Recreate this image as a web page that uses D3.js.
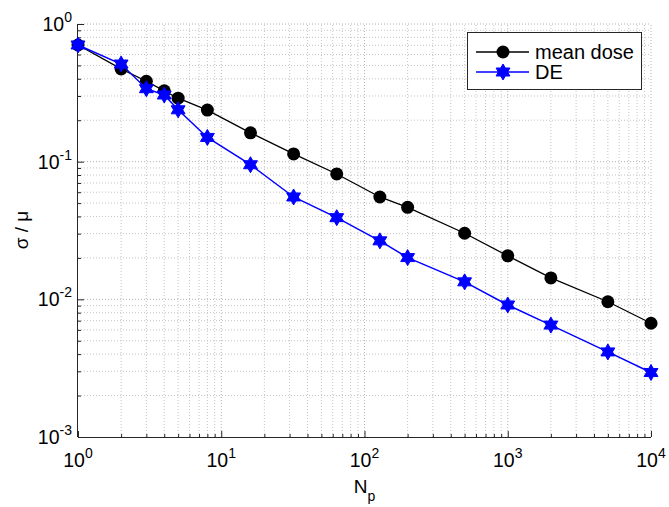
<!DOCTYPE html>
<html>
<head>
<meta charset="utf-8">
<script src="https://cdn.jsdelivr.net/npm/d3@7"></script>
<style>
  html, body { margin: 0; padding: 0; background: #fff; }
  svg { display: block; }
  text { font-family: "Liberation Sans", Arial, Helvetica, sans-serif; fill: #000; }
</style>
</head>
<body>
<svg id="chart" width="669" height="507"></svg>
<script>
// Number of particles per history
const particles = [1, 2, 3, 4, 5, 8, 16, 32, 64, 128, 200, 500, 1000, 2000, 5000, 10000];
// Relative standard deviation (sigma / mu) for each estimator
const meanDose = [0.704, 0.472, 0.384, 0.327, 0.289, 0.237, 0.162, 0.1138, 0.0814, 0.0554, 0.0466, 0.0302, 0.0207, 0.0143, 0.0096, 0.0067];
const deValues = [0.704, 0.512, 0.339, 0.305, 0.238, 0.150, 0.095, 0.0554, 0.0392, 0.0266, 0.0201, 0.0134, 0.0091, 0.0065, 0.00415, 0.00294];
const seriesNames = ["mean dose", "DE"];
const xTickExps = [0, 1, 2, 3, 4];
const yTickExps = [-3, -2, -1, 0];

const svg = d3.select("#chart");
const x = d3.scaleLog().domain([1, 1e4]).range([78, 651]);
const y = d3.scaleLog().domain([1e-3, 1]).range([437, 24]);

// tick positions: every integer multiple inside each decade
function logTicks(lo, hi) {
  const out = [];
  for (let e = lo; e < hi; e++) {
    for (let m = 1; m < 10; m++) out.push(m * Math.pow(10, e));
  }
  out.push(Math.pow(10, hi));
  return out;
}
const xAll = logTicks(0, 4);
const yAll = logTicks(-3, 0);
const isMajor = v => Math.abs(Math.log10(v) - Math.round(Math.log10(v))) < 1e-9;

// grid
const grid = svg.append("g");
grid.selectAll("line.gx").data(xAll.filter(v => v > 1)).join("line")
  .attr("x1", d => x(d)).attr("x2", d => x(d))
  .attr("y1", y(1e-3)).attr("y2", y(1))
  .attr("stroke", d => isMajor(d) ? "#b4b4b4" : "#c4c4c4")
  .attr("stroke-width", 1)
  .attr("stroke-dasharray", "1,2");
grid.selectAll("line.gy").data(yAll.filter(v => v > 1e-3)).join("line")
  .attr("y1", d => y(d)).attr("y2", d => y(d))
  .attr("x1", x(1)).attr("x2", x(1e4))
  .attr("stroke", d => isMajor(d) ? "#b4b4b4" : "#c4c4c4")
  .attr("stroke-width", 1)
  .attr("stroke-dasharray", "1,2");

// axes with inward ticks
const axisColor = "#262626";
const xAxis = d3.axisBottom(x).tickValues(xAll).tickFormat("")
  .tickSizeInner(0).tickSizeOuter(0);
const gx = svg.append("g").attr("transform", `translate(0,${y(1e-3)})`).call(xAxis);
gx.select(".domain").attr("stroke", axisColor).attr("d", `M${x(1)},0.5H${x(1e4)}`);
gx.selectAll(".tick line")
  .attr("y1", 0)
  .attr("y2", d => isMajor(d) ? -6 : -3)
  .attr("stroke", axisColor);

const yAxis = d3.axisLeft(y).tickValues(yAll).tickFormat("")
  .tickSizeInner(0).tickSizeOuter(0);
const gy = svg.append("g").attr("transform", `translate(${x(1)},0)`).call(yAxis);
gy.select(".domain").attr("stroke", axisColor).attr("d", `M-0.5,${y(1)}V${y(1e-3)}`);
gy.selectAll(".tick line")
  .attr("x1", 0)
  .attr("x2", d => isMajor(d) ? 6 : 3)
  .attr("stroke", axisColor);

// tick labels as 10^n
function powerLabel(sel, e) {
  sel.append("tspan").text("10");
  sel.append("tspan").text(String(e))
    .attr("dy", -9).attr("font-size", 14);
}
xTickExps.forEach(e => {
  const t = svg.append("text")
    .attr("x", x(Math.pow(10, e)))
    .attr("y", 467)
    .attr("text-anchor", "middle")
    .attr("font-size", 19.5);
  powerLabel(t, e);
});
yTickExps.forEach(e => {
  const t = svg.append("text")
    .attr("x", 72)
    .attr("y", y(Math.pow(10, e)) + 7)
    .attr("text-anchor", "end")
    .attr("font-size", 19.5);
  powerLabel(t, e);
});

// axis titles
const xt = svg.append("text")
  .attr("x", x(100)).attr("y", 493)
  .attr("text-anchor", "middle").attr("font-size", 19);
xt.append("tspan").text("N");
xt.append("tspan").text("p").attr("font-size", 14).attr("dy", 8);

svg.append("text")
  .attr("transform", "translate(28,230) rotate(-90)")
  .attr("text-anchor", "middle").attr("font-size", 19)
  .text("σ / μ");

// six-pointed star marker
function hexagram(r) {
  const pts = d3.range(12).map(i => {
    const a = -Math.PI / 2 + i * Math.PI / 6;
    const rr = i % 2 === 0 ? r : r / Math.sqrt(3);
    return [rr * Math.cos(a), rr * Math.sin(a)];
  });
  return d3.line()(pts) + "Z";
}

const line = d3.line().x((d, i) => x(particles[i])).y(d => y(d));

// mean dose series
svg.append("path").datum(meanDose)
  .attr("d", line).attr("fill", "none")
  .attr("stroke", "#000").attr("stroke-width", 1.3);
svg.append("g").selectAll("circle").data(meanDose).join("circle")
  .attr("cx", (d, i) => x(particles[i])).attr("cy", d => y(d))
  .attr("r", 6.5).attr("fill", "#000");

// DE series
svg.append("path").datum(deValues)
  .attr("d", line).attr("fill", "none")
  .attr("stroke", "#0000ff").attr("stroke-width", 1.5);
svg.append("g").selectAll("path").data(deValues).join("path")
  .attr("transform", (d, i) => `translate(${x(particles[i])},${y(d)})`)
  .attr("d", hexagram(8))
  .attr("fill", "#0000ff").attr("stroke", "#0000ff").attr("stroke-width", 1);

// legend
const lg = svg.append("g");
lg.append("rect").attr("x", 467.5).attr("y", 32.5).attr("width", 174).attr("height", 57)
  .attr("fill", "#fff").attr("stroke", "#262626").attr("stroke-width", 1);
const rows = [
  { name: seriesNames[0], color: "#000", marker: "circle", yy: 52, w: 1.3 },
  { name: seriesNames[1], color: "#0000ff", marker: "star", yy: 72, w: 1.5 }
];
rows.forEach(r => {
  lg.append("line").attr("x1", 476).attr("x2", 529).attr("y1", r.yy).attr("y2", r.yy)
    .attr("stroke", r.color).attr("stroke-width", r.w);
  if (r.marker === "circle") {
    lg.append("circle").attr("cx", 503).attr("cy", r.yy).attr("r", 6.5).attr("fill", r.color);
  } else {
    lg.append("path").attr("transform", `translate(503,${r.yy})`).attr("d", hexagram(8))
      .attr("fill", r.color).attr("stroke", r.color).attr("stroke-width", 1);
  }
  lg.append("text").attr("x", 535).attr("y", r.yy + 7).attr("font-size", 20).text(r.name);
});
</script>
</body>
</html>
